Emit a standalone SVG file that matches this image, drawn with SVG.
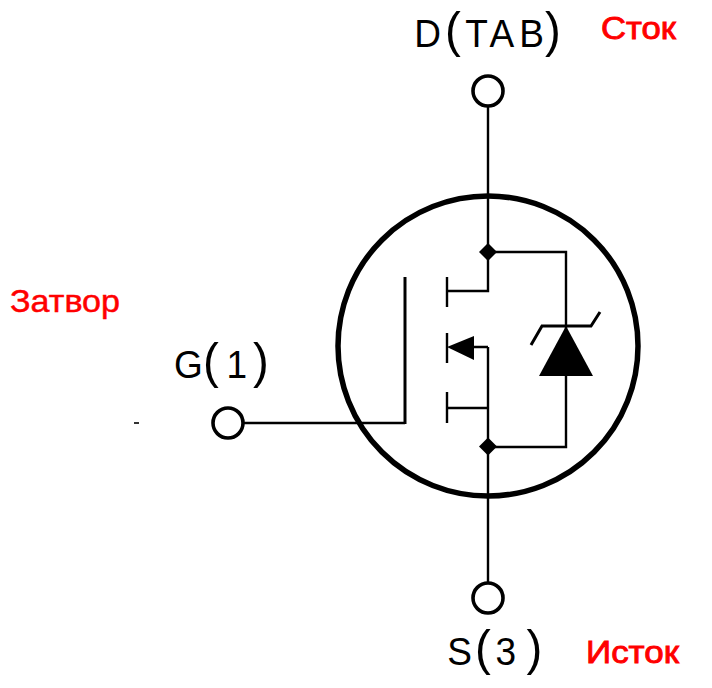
<svg xmlns="http://www.w3.org/2000/svg" width="712" height="688" viewBox="0 0 712 688">
<style>
.w{fill:none;stroke:#000;stroke-width:2.4}
.t{fill:none;stroke:#000;stroke-width:3}
.p{fill:#fff;stroke:#000;stroke-width:3.6}
.k{font-family:"Liberation Sans",Arial,sans-serif;fill:#000;font-size:39px}
.b{font-size:50px}
.r{font-family:"Liberation Sans",Arial,sans-serif;fill:#f00;font-size:32px;stroke:#f00;stroke-width:.5}
.h{stroke-width:.9}
</style>
<rect width="712" height="688" fill="#fff"/>
<g id="connectors">
<path class="w" d="M488 105V291H447M488 347V583M488 408H447M243 423H405M488 252H566V447H488"/>
<path class="t" d="M405 277V424"/>
<path class="w" d="M447 277V307M447 333V363M447 392V423M474 347H488"/>
</g>
<g id="body"><circle cx="488" cy="346" r="150" fill="none" stroke="#000" stroke-width="5.500"/></g>
<g id="junction-top"><path d="M488 243L497 252L488 261L479 252Z"/></g>
<g id="junction-bottom"><path d="M488 437.500L497 446.500L488 455.500L479 446.500Z"/></g>
<g id="body-arrow"><path d="M447 347L474 336V360Z"/></g>
<g id="zener">
<path d="M566 326L593 376H539Z"/>
<path class="t" d="M531 345L542 326H591L600 312"/>
</g>
<g id="drain"><circle class="p" cx="488" cy="91" r="15"/><text class="k" y="47" transform="scale(.95 1)"><tspan x="436">D</tspan><tspan class="b" x="468.400">(</tspan><tspan x="489.800">T</tspan><tspan x="515.300">A</tspan><tspan x="546.600">B</tspan><tspan class="b" x="573.700">)</tspan></text></g>
<g id="gate"><circle class="p" cx="228" cy="423" r="15"/><text class="k" y="378" transform="scale(.95 1)"><tspan x="183.200">G</tspan><tspan class="b" x="213.700">(</tspan><tspan x="238.400">1</tspan><tspan class="b" x="266.300">)</tspan></text><rect x="134" y="422" width="5" height="2" fill="#333"/></g>
<g id="source"><circle class="p" cx="488" cy="598" r="15"/><text class="k" y="665" transform="scale(.95 1)"><tspan x="470.700">S</tspan><tspan class="b" x="500">(</tspan><tspan x="521.500">3</tspan><tspan class="b" x="554.200">)</tspan></text></g>
<text class="r h" x="601" y="39" textLength="75" lengthAdjust="spacingAndGlyphs">Сток</text>
<text class="r" x="10" y="312" textLength="110" lengthAdjust="spacingAndGlyphs">Затвор</text>
<text class="r h" x="586" y="663" textLength="93" lengthAdjust="spacingAndGlyphs">Исток</text>
</svg>
